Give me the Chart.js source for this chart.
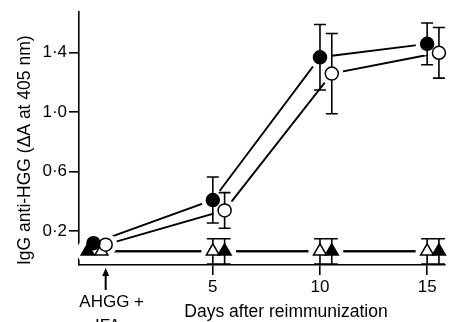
<!DOCTYPE html>
<html lang="en">
<head>
<meta charset="UTF-8">
<title>IgG anti-HGG after reimmunization</title>
<script src="https://cdn.jsdelivr.net/npm/chart.js"></script>
<style>
  html, body { margin: 0; padding: 0; background: #fff; }
  #wrap { width: 456px; height: 322px; }
</style>
</head>
<body>
<div id="wrap"><canvas id="chart"></canvas></div>
<script>
// days after reimmunization (day 0 = AHGG + IFA)
const days = [0, 5, 10, 15];
const xTicks = [5, 10, 15];
const yTicks = [0.2, 0.6, 1.0, 1.4];

// IgG anti-HGG, delta A at 405 nm (mean and error)
const filledCircle = [0.12, 0.41, 1.37, 1.46];
const filledCircleErr = [0, 0.155, 0.22, 0.14];
const openCircle = [0.11, 0.34, 1.26, 1.40];
const openCircleErr = [0, 0.12, 0.27, 0.17];
const openTriangle = [0.065, 0.065, 0.065, 0.065];
const openTriangleErr = [0, 0.085, 0.085, 0.085];
const filledTriangle = [0.065, 0.065, 0.065, 0.065];
const filledTriangleErr = [0, 0.085, 0.085, 0.085];

const injectionDay = 0;
const injectionLabel = ['AHGG +', 'IFA'];

// small sideways shift (in days) so the symbols don't sit on each other
const dodge = {
  filledCircle: [-0.57, 0, 0, 0],
  openCircle: [0, 0.55, 0.55, 0.55],
  openTriangle: [-0.2, 0, 0, 0],
  filledTriangle: [-0.84, 0.55, 0.55, 0.55]
};

const FONT = '"Liberation Sans", Arial, Helvetica, sans-serif';

const series = [
  { key: 'filledCircle', values: filledCircle, errors: filledCircleErr, style: 'circle', fill: '#000', r: 6.5 },
  { key: 'openCircle', values: openCircle, errors: openCircleErr, style: 'circle', fill: '#fff', r: 6.5 },
  { key: 'openTriangle', values: openTriangle, errors: openTriangleErr, style: 'triangle', fill: '#fff', r: 7.5 },
  { key: 'filledTriangle', values: filledTriangle, errors: filledTriangleErr, style: 'triangle', fill: '#000', r: 7.5 }
];

function points(s) {
  return s.values.map((v, i) => ({ x: days[i] + dodge[s.key][i], y: v }));
}

const datasets = [];
// connecting lines
series.forEach(s => datasets.push({
  data: points(s), showLine: true, borderColor: '#000', borderWidth: 1.9,
  pointRadius: 0, order: 3, clip: false
}));
// white halos so the lines stop short of the symbols
series.forEach(s => datasets.push({
  data: points(s), showLine: false, pointRadius: 11.5, pointStyle: 'circle',
  pointBackgroundColor: '#fff', pointBorderWidth: 0, order: 2, clip: false
}));
// symbols (error bars drawn just before them)
series.forEach(s => datasets.push({
  data: points(s), showLine: false, pointStyle: s.style, pointRadius: s.r,
  pointBackgroundColor: s.fill, pointBorderColor: '#000', pointBorderWidth: 1.5,
  errors: s.errors, order: 1, clip: false
}));

const errorBars = {
  id: 'errorBars',
  beforeDatasetDraw(chart, args) {
    const ds = chart.data.datasets[args.index];
    if (!ds.errors) return;
    const { ctx, scales: { x, y } } = chart;
    const cap = 6;
    ctx.save();
    ctx.strokeStyle = '#000';
    ctx.lineWidth = 1.6;
    ds.data.forEach((p, i) => {
      const e = ds.errors[i];
      if (!e) return;
      const px = x.getPixelForValue(p.x);
      const top = y.getPixelForValue(p.y + e);
      const bot = y.getPixelForValue(p.y - e);
      ctx.beginPath();
      ctx.moveTo(px, top); ctx.lineTo(px, bot);
      ctx.moveTo(px - cap, top); ctx.lineTo(px + cap, top);
      ctx.moveTo(px - cap, bot); ctx.lineTo(px + cap, bot);
      ctx.stroke();
    });
    ctx.restore();
  }
};

const annotations = {
  id: 'annotations',
  afterDraw(chart) {
    const { ctx, chartArea, scales: { x } } = chart;
    const px = x.getPixelForValue(injectionDay);
    const tip = chartArea.bottom + 3;
    const tail = chartArea.bottom + 25;
    ctx.save();
    ctx.strokeStyle = '#000';
    ctx.fillStyle = '#000';
    ctx.lineWidth = 2;
    ctx.beginPath();
    ctx.moveTo(px, tail); ctx.lineTo(px, tip + 6);
    ctx.stroke();
    ctx.beginPath();
    ctx.moveTo(px, tip); ctx.lineTo(px - 3.5, tip + 8); ctx.lineTo(px + 3.5, tip + 8);
    ctx.closePath();
    ctx.fill();
    ctx.font = '17px ' + FONT;
    ctx.textAlign = 'center';
    ctx.textBaseline = 'middle';
    ctx.fillText(injectionLabel[0], px + 6, chartArea.bottom + 37);
    ctx.fillText(injectionLabel[1], px + 2, chartArea.bottom + 61);
    // x axis title
    ctx.font = '17.5px ' + FONT;
    ctx.fillText('Days after reimmunization', chartArea.left + 207, chartArea.bottom + 47);
    ctx.restore();
  }
};

new Chart(document.getElementById('chart'), {
  type: 'scatter',
  data: { datasets },
  options: {
    responsive: true,
    maintainAspectRatio: false,
    animation: false,
    events: [],
    layout: { padding: { top: 10, right: 0, bottom: 0, left: 0 } },
    plugins: { legend: { display: false }, tooltip: { enabled: false } },
    scales: {
      x: {
        type: 'linear', min: -1.244, max: 15.81, z: 1,
        afterBuildTicks: s => { s.ticks = xTicks.map(v => ({ value: v })); },
        afterFit: s => { s.height = 57; },
        border: { display: true, color: '#000', width: 1.6 },
        grid: { drawOnChartArea: false, drawTicks: true, tickLength: 10, color: '#000', lineWidth: 1.6 },
        ticks: { color: '#000', padding: 2, maxRotation: 0, font: { family: FONT, size: 17 } },
        title: { display: false }
      },
      y: {
        min: -0.027, max: 1.673, z: 1,
        afterBuildTicks: s => { s.ticks = yTicks.map(v => ({ value: v })); },
        afterFit: s => { s.width = 79; },
        border: { display: true, color: '#000', width: 1.6 },
        grid: { drawOnChartArea: false, drawTicks: true, tickLength: 10, color: '#000', lineWidth: 1.6 },
        ticks: {
          color: '#000', padding: 2, font: { family: FONT, size: 17 },
          callback: v => v.toFixed(1).replace('.', '\u00b7')
        },
        title: {
          display: true, text: 'IgG anti-HGG (\u0394A at 405 nm)', align: 'start', color: '#000',
          font: { family: FONT, size: 17.5, lineHeight: 1 }, padding: { top: 16.5, bottom: 0 }
        }
      }
    }
  },
  plugins: [errorBars, annotations]
});
</script>
</body>
</html>
